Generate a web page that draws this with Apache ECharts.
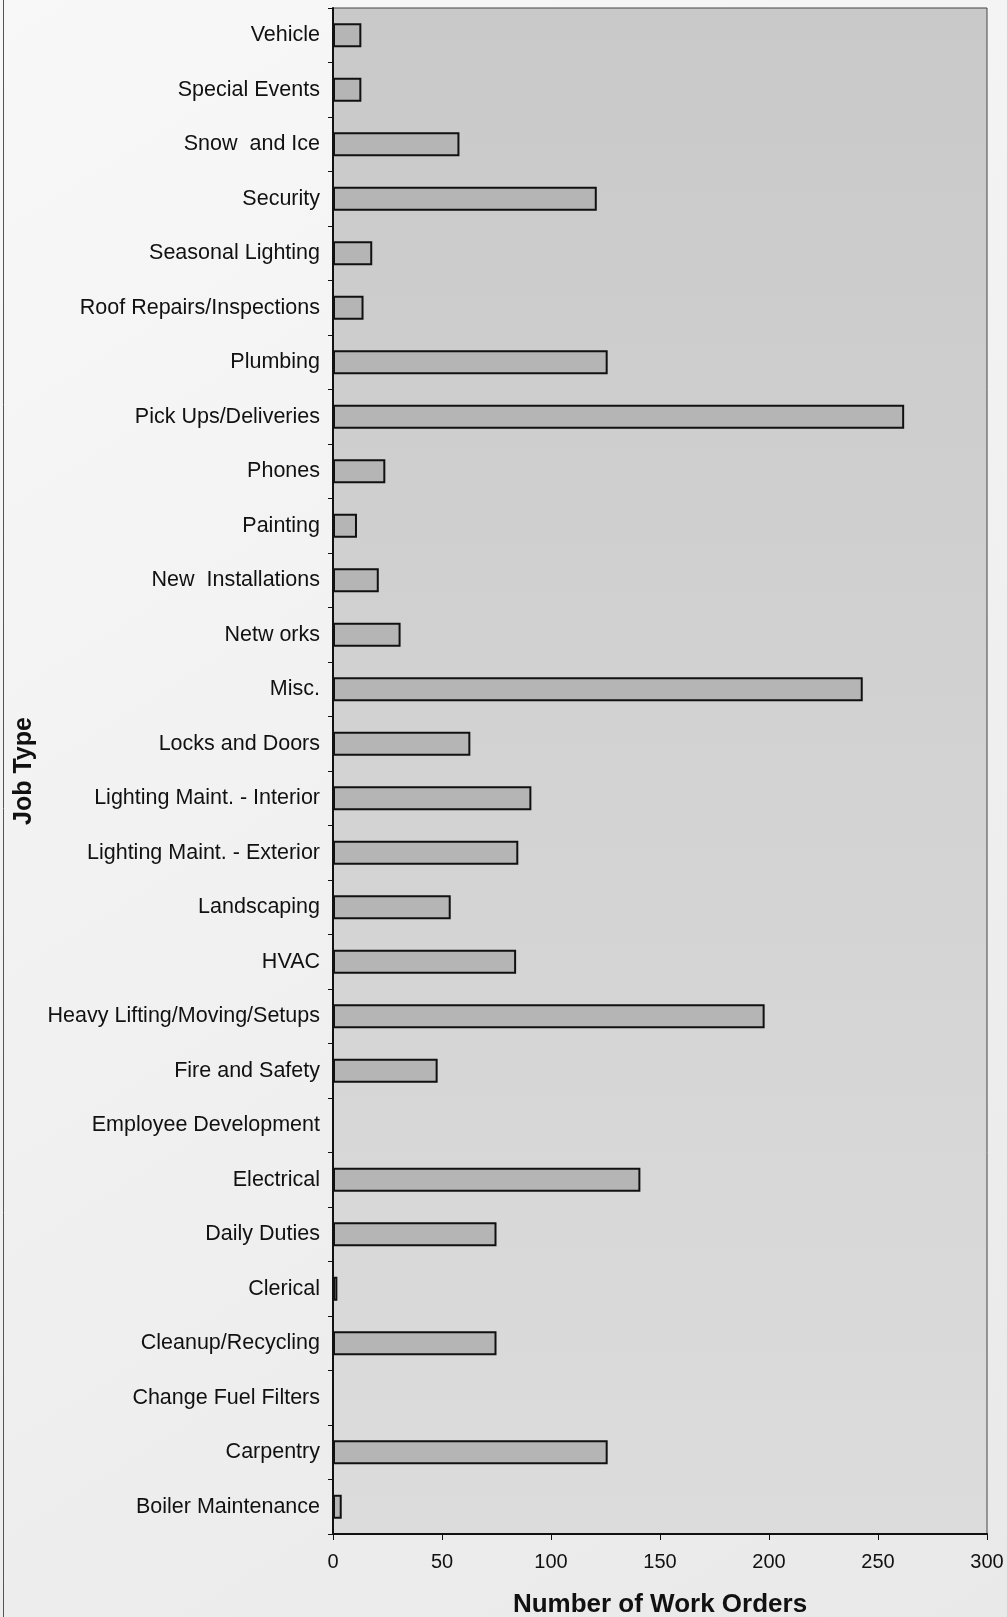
<!DOCTYPE html>
<html>
<head>
<meta charset="utf-8">
<style>
  html, body { margin: 0; padding: 0; background: #f1f1f1; }
  #chart { width: 1007px; height: 1617px; }
</style>
<script src="https://cdn.jsdelivr.net/npm/echarts@6/dist/echarts.min.js"></script>
</head>
<body>
<div id="chart"></div>
<script>
// Work orders by job type (top of the list first)
const jobTypes = [
  'Vehicle', 'Special Events', 'Snow  and Ice', 'Security', 'Seasonal Lighting',
  'Roof Repairs/Inspections', 'Plumbing', 'Pick Ups/Deliveries', 'Phones', 'Painting',
  'New  Installations', 'Netw orks', 'Misc.', 'Locks and Doors',
  'Lighting Maint. - Interior', 'Lighting Maint. - Exterior', 'Landscaping', 'HVAC',
  'Heavy Lifting/Moving/Setups', 'Fire and Safety', 'Employee Development', 'Electrical',
  'Daily Duties', 'Clerical', 'Cleanup/Recycling', 'Change Fuel Filters', 'Carpentry',
  'Boiler Maintenance'
];
const workOrders = [
  13, 13, 58, 121, 18,
  14, 126, 262, 24, 11,
  21, 31, 243, 63,
  91, 85, 54, 84,
  198, 48, 0, 141,
  75, 2, 75, 0, 126,
  4
];
const xTicks = { min: 0, max: 300, interval: 50 };

const chart = echarts.init(document.getElementById('chart'));
const font = '"Liberation Sans", Arial, sans-serif';

chart.setOption({
  backgroundColor: {
    type: 'linear', x: 0, y: 0, x2: 1, y2: 1,
    colorStops: [{ offset: 0, color: '#f8f8f8' }, { offset: 1, color: '#e9e9e9' }]
  },
  animation: false,
  graphic: [{
    type: 'line',
    shape: { x1: 3.5, y1: 0, x2: 3.5, y2: 1617 },
    style: { stroke: '#555', lineWidth: 1 }
  }],
  grid: {
    left: 333, right: 20, top: 8, bottom: 83,
    outerBoundsMode: 'none',
    containLabel: false,
    show: true,
    backgroundColor: {
      type: 'linear', x: 0, y: 0, x2: 0, y2: 1,
      colorStops: [{ offset: 0, color: '#c9c9c9' }, { offset: 1, color: '#dcdcdc' }]
    },
    borderColor: '#444',
    borderWidth: 1
  },
  xAxis: {
    type: 'value',
    min: xTicks.min, max: xTicks.max, interval: xTicks.interval,
    name: 'Number of Work Orders',
    nameLocation: 'middle',
    nameGap: 58,
    nameTextStyle: { fontFamily: font, fontSize: 26, fontWeight: 'bold', color: '#111' },
    axisLine: { show: true, lineStyle: { color: '#111', width: 2 } },
    axisTick: { show: true, length: 6, lineStyle: { color: '#111', width: 1 } },
    axisLabel: { fontFamily: font, fontSize: 20, color: '#111', margin: 18 },
    splitLine: { show: false }
  },
  yAxis: {
    type: 'category',
    data: jobTypes,
    inverse: true,
    name: 'Job Type',
    nameLocation: 'middle',
    nameGap: 291,
    nameTextStyle: { fontFamily: font, fontSize: 25, fontWeight: 'bold', color: '#111' },
    axisLine: { show: true, lineStyle: { color: '#111', width: 2 } },
    axisTick: { show: true, length: 5, alignWithLabel: false, lineStyle: { color: '#111', width: 1 } },
    axisLabel: { fontFamily: font, fontSize: 21.5, color: '#111', margin: 13 }
  },
  series: [{
    type: 'bar',
    data: workOrders,
    barWidth: 24,
    itemStyle: { color: '#b5b5b5', borderColor: '#111', borderWidth: 2 }
  }]
});
</script>
</body>
</html>
